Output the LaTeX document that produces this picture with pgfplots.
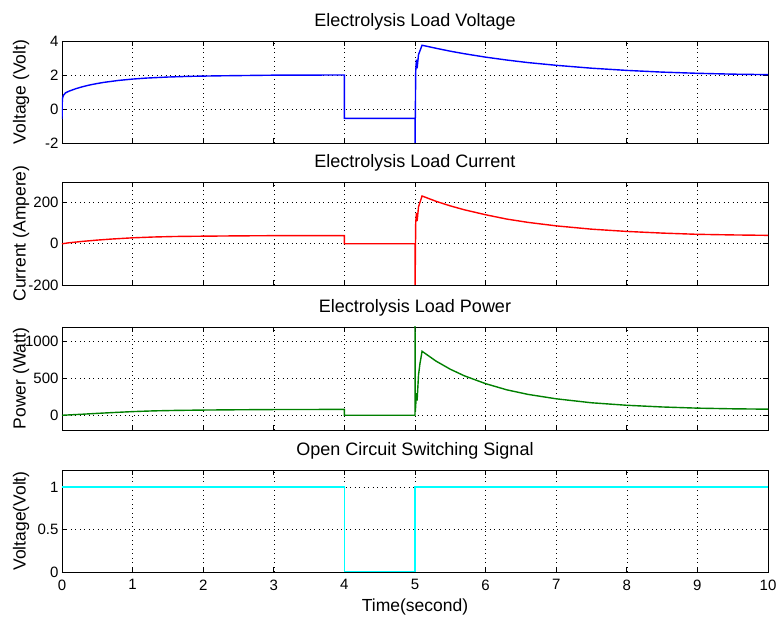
\documentclass[border=0pt]{standalone}
\usepackage{fontspec}
\setmainfont{Liberation Sans}
\usepackage{pgfplots}
\pgfplotsset{compat=1.18}
\definecolor{mblue}{RGB}{0,0,255}
\definecolor{mred}{RGB}{255,0,0}
\definecolor{mgreen}{RGB}{0,128,0}
\definecolor{mcyan}{RGB}{0,255,255}
\pgfplotsset{mpanel/.style={
  scale only axis, width=706pt, height=102pt,
  xmin=0, xmax=10, xtick={0,1,...,10},
  grid=major,
  major grid style={black, line width=0.6pt, dash pattern=on 0.9pt off 3.6pt},
  axis line style={black, line width=0.8pt},
  major tick length=5pt,
  tick style={black, line width=0.8pt},
  tick label style={font=\fontsize{15}{17}\selectfont},
  xticklabel style={yshift=-4pt},
  /pgf/number format/assume math mode=true,
  /pgf/number format/fixed,
  /pgf/number format/1000 sep={},
  scaled y ticks=false,
  title style={at={(0.5,1)}, anchor=base, yshift=8pt, font=\fontsize{18}{21}\selectfont},
  ylabel style={at={(axis description cs:-0.058,0.5)}, anchor=center, font=\fontsize{17.5}{20}\selectfont},
  xlabel style={font=\fontsize{17.5}{20}\selectfont},
  every axis plot/.append style={line width=1.4pt},
  anchor=north west,
}}
\begin{document}
\begin{tikzpicture}
\useasboundingbox (-62pt,41pt) rectangle (715pt,-576pt);
% Panel 1
\begin{axis}[mpanel, at={(0pt,0pt)}, ymin=-2, ymax=4, ytick={-2,0,2,4},
  xticklabels={}, title={Electrolysis Load Voltage}, ylabel={Voltage (Volt)}]
\addplot[mblue] coordinates {
(0,-0.6)(0.005,0.6)(0.02,0.8)(0.05,0.95)(0.1,1.05)(0.2,1.2)(0.3,1.32)(0.4,1.42)
(0.5,1.5)(0.6,1.57)(0.8,1.68)(1,1.76)(1.2,1.82)(1.5,1.88)(1.8,1.92)(2.2,1.95)
(2.6,1.97)(3,1.99)(4,2.0)(4,-0.55)(5,-0.55)(5,-2.5)(5.01,2.2)(5.02,2.9)(5.03,2.4)
(5.05,3.2)(5.1,3.75)(5.3,3.57)(5.5,3.40)(5.7,3.25)(6,3.05)(6.3,2.88)(6.6,2.73)
(7,2.57)(7.5,2.40)(8,2.27)(8.5,2.17)(9,2.10)(9.5,2.05)(10,2.02)};
\end{axis}
% Panel 2
\begin{axis}[mpanel, at={(0pt,-141pt)}, height=103pt, ymin=-200, ymax=300, ytick={-200,0,200},
  xticklabels={}, title={Electrolysis Load Current}, ylabel={Current (Ampere)}]
\addplot[mred] coordinates {
(0,0)(0.1,5)(0.3,12)(0.5,18)(0.7,23)(1,29)(1.3,33)(1.6,35.5)(2,37)(2.5,38.5)
(3,39.5)(4,40)(4,0)(5,0)(5,-250)(5.01,100)(5.02,150)(5.03,110)(5.05,180)(5.1,232)
(5.3,206)(5.5,184)(5.7,165)(6,141)(6.3,120)(6.6,104)(7,87)(7.5,71)(8,60)(8.5,52)
(9,46)(9.5,43)(10,41)};
\end{axis}
% Panel 3
\begin{axis}[mpanel, at={(0pt,-286pt)}, height=103pt, ymin=-200, ymax=1200, ytick={0,500,1000},
  xticklabels={}, title={Electrolysis Load Power}, ylabel={Power (Watt)}]
\addplot[mgreen] coordinates {
(0,0)(0.1,5)(0.3,15)(0.5,26)(0.7,36)(1,50)(1.3,60)(1.6,66)(2,71)(2.5,75)(3,78)
(4,80)(4,0)(5,0)(5,1300)(5.005,50)(5.02,300)(5.03,200)(5.05,550)(5.07,700)(5.1,870)
(5.3,735)(5.5,626)(5.7,536)(6,430)(6.3,346)(6.6,284)(7,224)(7.5,170)(8,136)
(8.5,113)(9,97)(9.5,88)(10,83)};
\end{axis}
% Panel 4
\begin{axis}[mpanel, at={(0pt,-429pt)}, ymin=0, ymax=1.2, ytick={0,0.5,1},
  title={Open Circuit Switching Signal}, ylabel={Voltage(Volt)},
  xlabel={Time(second)}, xlabel style={at={(axis description cs:0.5,-0.343)}, anchor=center}]
\addplot[mcyan] coordinates {(0,1)(4,1)(4,0)(5,0)(5,1)(10,1)};
\end{axis}
\end{tikzpicture}
\end{document}
